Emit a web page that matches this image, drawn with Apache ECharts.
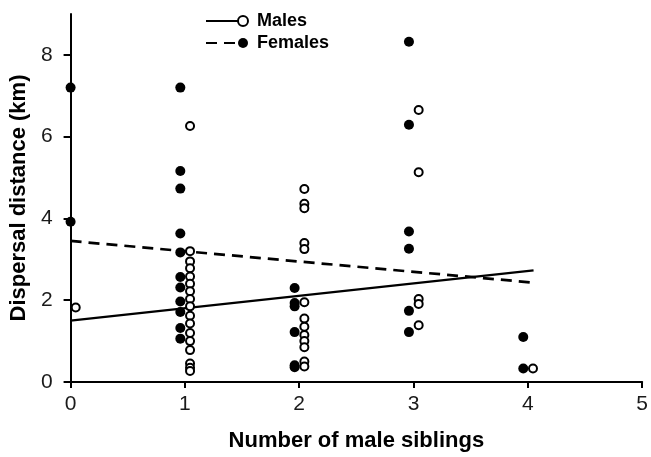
<!DOCTYPE html>
<html>
<head>
<meta charset="utf-8">
<title>Dispersal distance by number of male siblings</title>
<script src="https://cdn.jsdelivr.net/npm/echarts@6/dist/echarts.min.js"></script>
<style>
  html, body { margin: 0; padding: 0; background: #fff; }
  #chart { width: 651px; height: 457px; }
</style>
</head>
<body>
<div id="chart"></div>
<script>
// Number of male siblings (x groups)
const siblingCounts = [0, 1, 2, 3, 4];

// Dispersal distances (km) per sibling count, males
const maleDistances = [
  [1.82],
  [6.26, 3.2, 2.95, 2.78, 2.58, 2.4, 2.22, 2.03, 1.85, 1.62, 1.43, 1.2, 1.0, 0.78, 0.45, 0.35, 0.27],
  [4.72, 4.36, 4.25, 3.4, 3.25, 1.95, 1.55, 1.35, 1.15, 1.0, 0.85, 0.5, 0.38],
  [6.65, 5.13, 2.03, 1.91, 1.39],
  [0.33]
];

// Dispersal distances (km) per sibling count, females
const femaleDistances = [
  [7.2, 3.92],
  [7.2, 5.16, 4.73, 3.63, 3.17, 2.57, 2.31, 1.97, 1.71, 1.32, 1.06],
  [2.3, 1.93, 1.85, 1.22, 0.41, 0.36],
  [8.32, 6.29, 3.68, 3.26, 1.74, 1.22],
  [1.1, 0.33]
];

// Fitted regression lines: start / end of the x range and distances there
const trendX = [0, 4.05];
const maleTrend = [1.5, 2.73];
const femaleTrend = [3.45, 2.43];

// Axis ticks
const xTicks = [0, 1, 2, 3, 4, 5];
const yTicks = [0, 2, 4, 6, 8];

// small horizontal shift so the two sexes sit side by side in each group
const MALE_SHIFT = 0.045;
const FEMALE_SHIFT = -0.04;

function toPoints(groups, shift) {
  const pts = [];
  groups.forEach((vals, i) => {
    const x = Math.max(0, siblingCounts[i] + shift);
    vals.forEach(v => pts.push([x, v]));
  });
  return pts;
}

const FONT = '"Liberation Sans", Arial, sans-serif';
const INK = '#000';

const chart = echarts.init(document.getElementById('chart'), null, { renderer: 'canvas' });

chart.setOption({
  backgroundColor: '#fff',
  animation: false,
  grid: { left: 68, right: 8, top: 14, bottom: 71, containLabel: false },
  legend: [
    {
      // line part of the key
      data: ['Males fit', 'Females fit'],
      orient: 'vertical',
      left: 205, top: 12, padding: 0,
      itemWidth: 33, itemHeight: 10, itemGap: 4,
      selectedMode: false,
      itemStyle: { opacity: 0 },
      formatter: () => '\u00a0',
      textStyle: { fontSize: 18, lineHeight: 18, fontFamily: FONT }
    },
    {
      // marker + label part of the key
      data: ['Males', 'Females'],
      orient: 'vertical',
      left: 237, top: 12, padding: 0,
      itemWidth: 10, itemHeight: 10, itemGap: 4,
      selectedMode: false,
      textStyle: { fontSize: 18, lineHeight: 18, fontWeight: 'bold', color: INK,
                   fontFamily: FONT, padding: [0, 0, 0, 4] }
    }
  ],
  xAxis: {
    type: 'value', min: 0, max: 5, interval: 1,
    name: 'Number of male siblings', nameLocation: 'middle', nameGap: 48,
    nameTextStyle: { fontSize: 22, fontWeight: 'bold', color: INK, fontFamily: FONT },
    axisLine: { show: true, lineStyle: { color: INK, width: 2 } },
    axisTick: { show: true, length: 6, inside: false, lineStyle: { color: INK, width: 2 } },
    axisLabel: { fontSize: 21, color: '#1a1a1a', fontFamily: FONT, margin: 12,
                 customValues: xTicks },
    splitLine: { show: false }
  },
  yAxis: {
    type: 'value', min: 0, max: 9,
    name: 'Dispersal distance (km)', nameLocation: 'middle', nameGap: 40,
    nameTextStyle: { fontSize: 22, fontWeight: 'bold', color: INK, fontFamily: FONT },
    axisLine: { show: true, lineStyle: { color: INK, width: 2 } },
    axisTick: { show: true, length: 7, inside: false, lineStyle: { color: INK, width: 2 },
                customValues: yTicks },
    axisLabel: { fontSize: 21, color: '#1a1a1a', fontFamily: FONT, margin: 18,
                 customValues: yTicks },
    splitLine: { show: false }
  },
  series: [
    {
      name: 'Males fit', type: 'line', z: 2,
      data: trendX.map((x, i) => [x, maleTrend[i]]),
      showSymbol: false, symbol: 'none',
      lineStyle: { color: INK, width: 2.2, type: 'solid' },
      itemStyle: { color: INK },
      silent: true
    },
    {
      name: 'Females fit', type: 'line', z: 2,
      data: trendX.map((x, i) => [x, femaleTrend[i]]),
      showSymbol: false, symbol: 'none',
      lineStyle: { color: INK, width: 2.7, type: [11, 7] },
      itemStyle: { color: INK },
      silent: true
    },
    {
      name: 'Females', type: 'scatter', z: 3,
      data: toPoints(femaleDistances, FEMALE_SHIFT),
      symbol: 'circle', symbolSize: 10,
      itemStyle: { color: INK, borderColor: INK, borderWidth: 0, opacity: 1 }
    },
    {
      name: 'Males', type: 'scatter', z: 4,
      data: toPoints(maleDistances, MALE_SHIFT),
      symbol: 'circle', symbolSize: 8,
      itemStyle: { color: '#fff', borderColor: INK, borderWidth: 2, opacity: 1 }
    }
  ]
});
</script>
</body>
</html>
